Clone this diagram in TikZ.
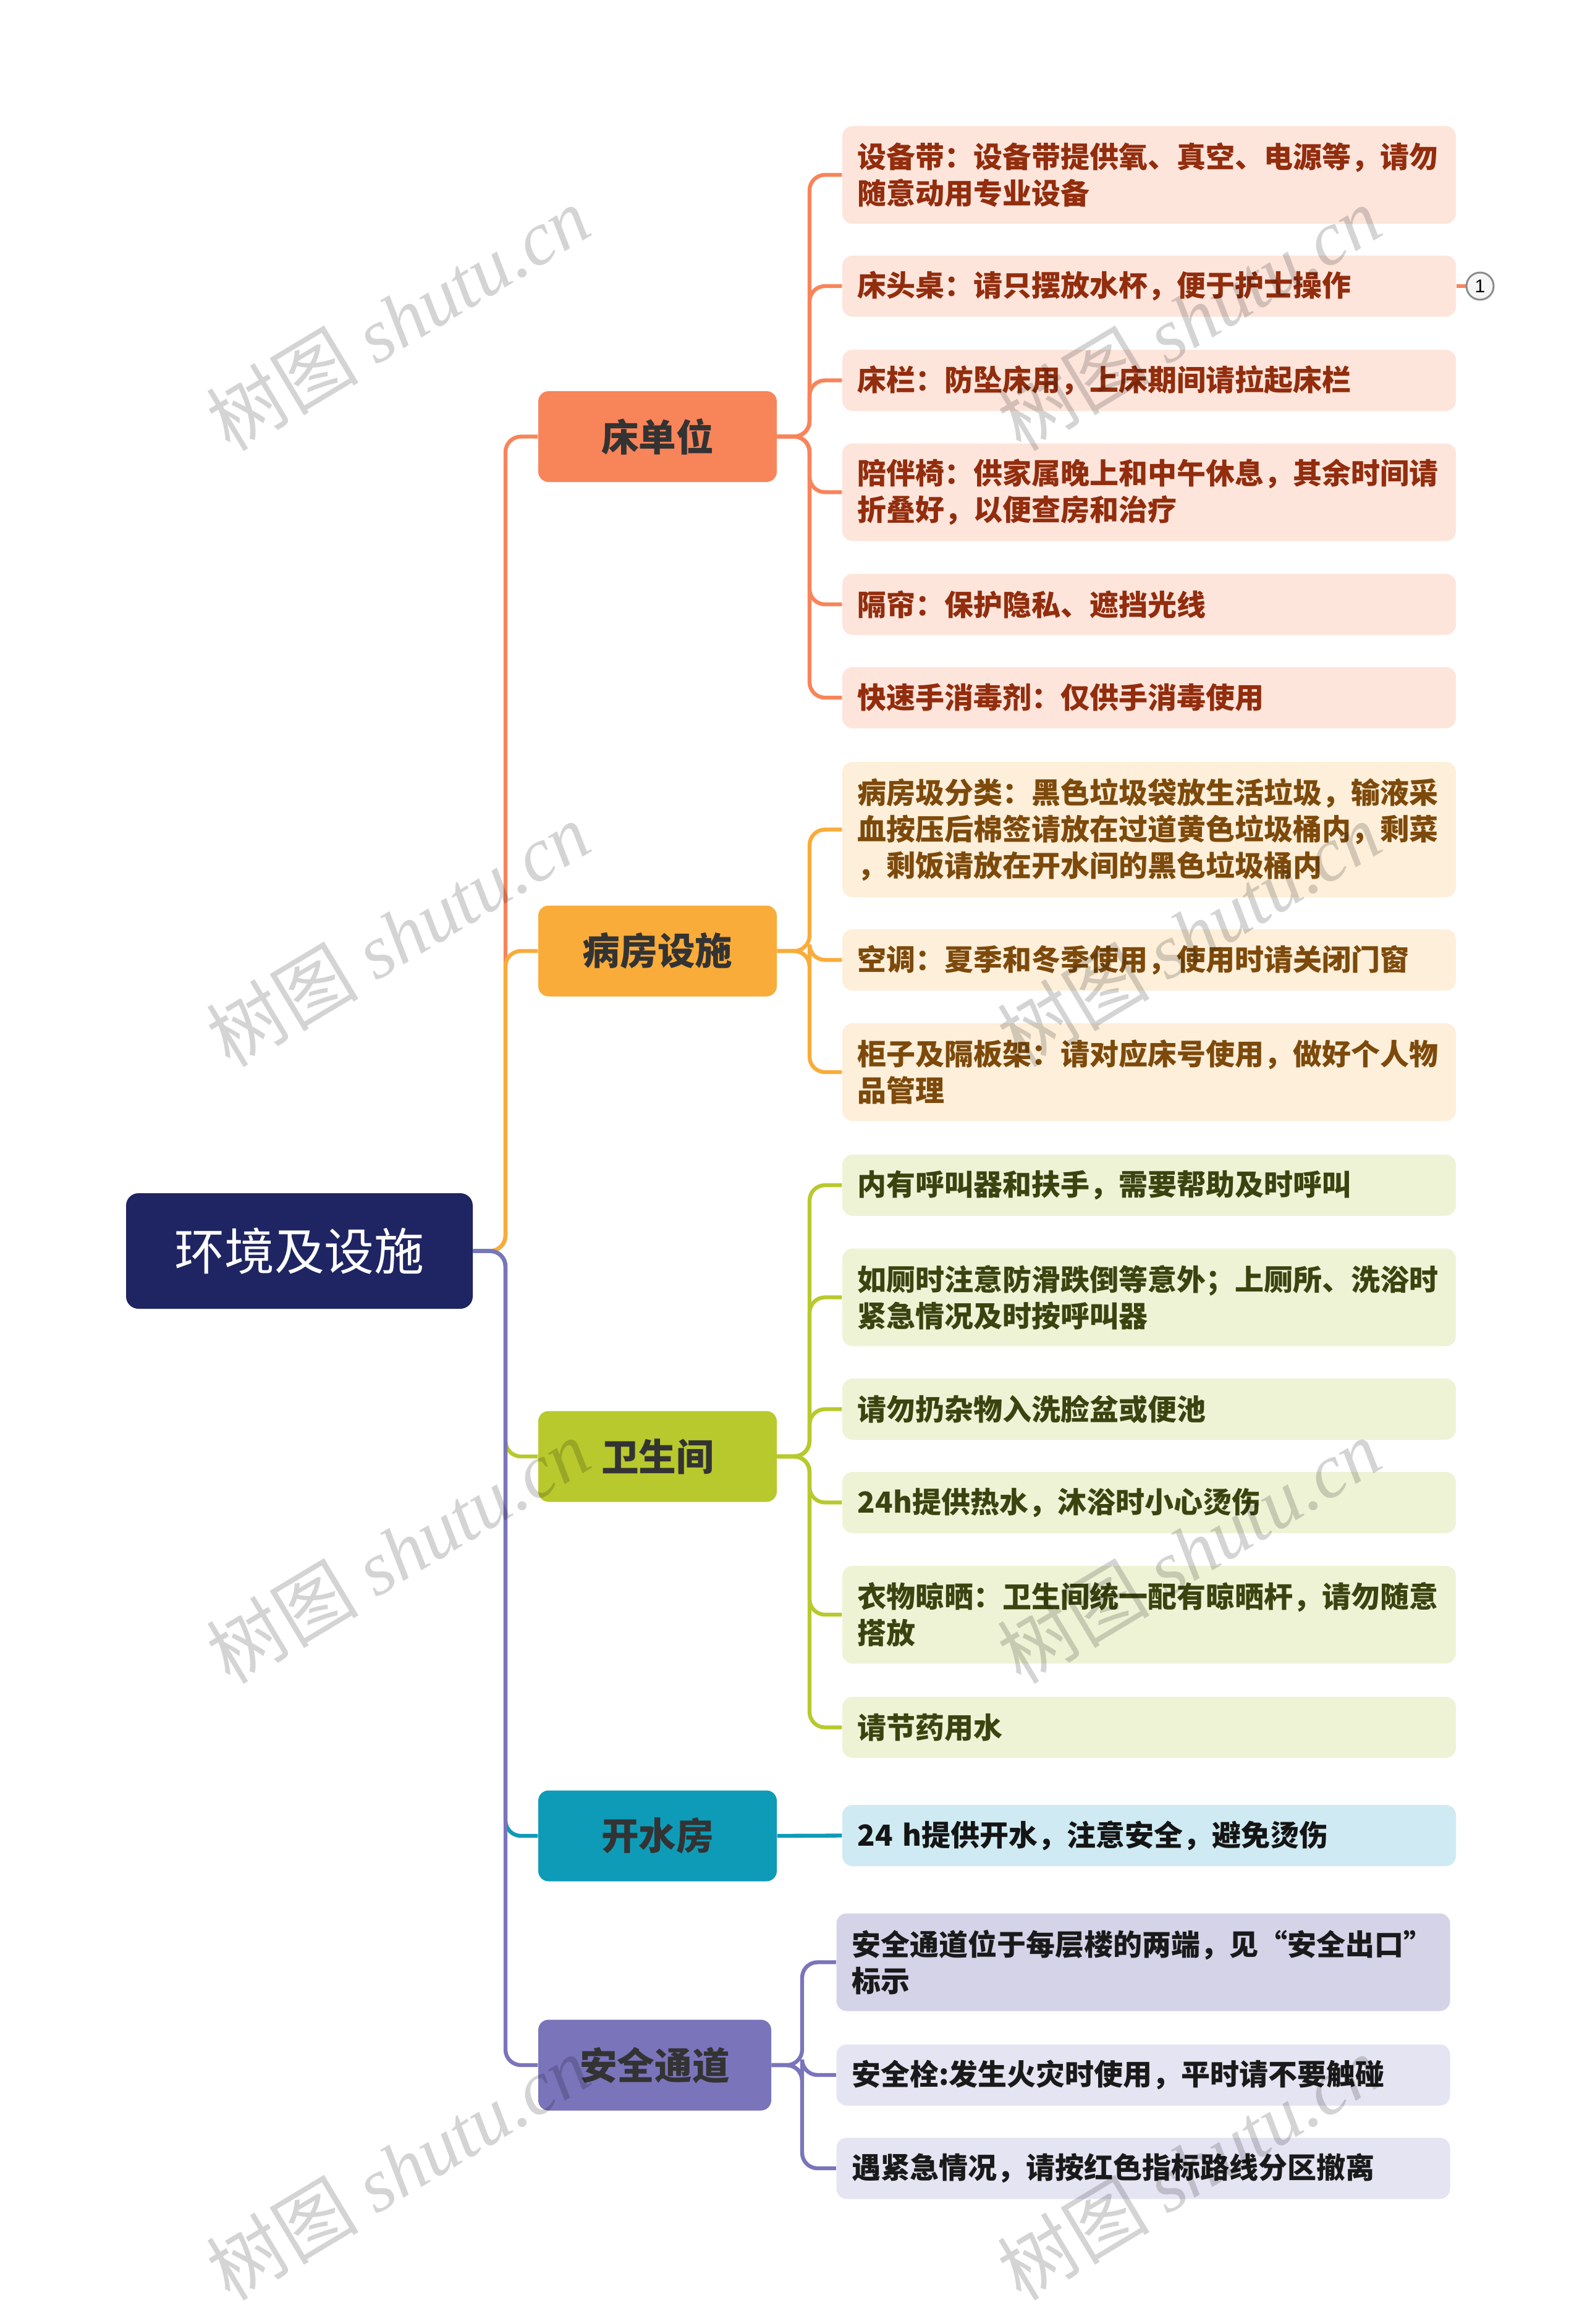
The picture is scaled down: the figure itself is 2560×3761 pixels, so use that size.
\documentclass[tikz,border=0pt]{standalone}
\usepackage{fontspec}
\setmainfont{Noto Sans CJK SC}
\newfontfamily\wmlat{Liberation Serif}
\newfontfamily\numfont{Liberation Sans}
\pgfdeclarelayer{bg}\pgfdeclarelayer{fg}\pgfsetlayers{bg,main,fg}
\definecolor{cRoot}{HTML}{1F2562}
\definecolor{cA}{HTML}{F8845A}
\definecolor{cB}{HTML}{F9AC39}
\definecolor{cC}{HTML}{B8C92D}
\definecolor{cD}{HTML}{0E9BB7}
\definecolor{cE}{HTML}{7A74BB}
\definecolor{lA}{HTML}{FDE5DC}
\definecolor{lB}{HTML}{FDEFD9}
\definecolor{lC}{HTML}{EFF3D6}
\definecolor{lD}{HTML}{CFEAF2}
\definecolor{lE}{HTML}{E5E4F2}
\definecolor{lEa}{HTML}{D4D3E8}
\definecolor{tA}{HTML}{922D0D}
\definecolor{tB}{HTML}{7D4A0C}
\definecolor{tC}{HTML}{3B4410}
\definecolor{tD}{HTML}{151515}
\definecolor{tE}{HTML}{1A1A1A}
\definecolor{tL}{HTML}{333333}
\begin{document}
\begin{tikzpicture}[x=0.3pt,y=-0.3pt,
  rootnode/.style={fill=cRoot, rounded corners=6pt, minimum width=168.3pt, minimum height=56.1pt, inner sep=0pt, text=white, font=\fontsize{24.3pt}{28pt}\selectfont},
  lvl/.style={rounded corners=5pt, minimum width=115.8pt, minimum height=44.1pt, inner sep=0pt, text=tL, font=\bfseries\fontsize{18.2pt}{22pt}\selectfont},
  leaf/.style={rounded corners=5pt, minimum width=297.9pt, text width=283pt, inner xsep=7.45pt, inner ysep=0pt, align=left, font=\bfseries\fontsize{14.1pt}{17.7pt}\selectfont},
  hA/.style={minimum height=29.7pt},
  hB/.style={minimum height=47.4pt},
  hC/.style={minimum height=65.7pt},
  leafA/.style={leaf, fill=lA, text=tA},
  leafB/.style={leaf, fill=lB, text=tB},
  leafC/.style={leaf, fill=lC, text=tC},
  leafD/.style={leaf, fill=lD, text=tD},
  leafE/.style={leaf, fill=lE, text=tE},
  conn/.style={line width=1.9pt, rounded corners=7.5pt},
  wm/.style={rotate=31, text=black, text opacity=0.17, inner sep=0pt, font=\fontsize{37pt}{40pt}\selectfont}
]
\useasboundingbox (0,0) rectangle (2560,3761);

% root
\node[rootnode] (root) at (484.5,2024.5) {环境及设施};

% level 1
\node[lvl, fill=cA] (n1) at (1064,706.5) {床单位};
\node[lvl, fill=cB] (n2) at (1064,1539) {病房设施};
\node[lvl, fill=cC] (n3) at (1064,2357) {卫生间};
\node[lvl, fill=cD] (n4) at (1064,2971) {开水房};
\node[lvl, fill=cE, minimum width=113.1pt] (n5) at (1059.5,3342) {安全通道};

% leaves
\node[leafA, hB] (l1) at (1859.5,283) {设备带：设备带提供氧、真空、电源等，请勿\\随意动用专业设备};
\node[leafA, hA] (l2) at (1859.5,463) {床头桌：请只摆放水杯，便于护士操作};
\node[leafA, hA] (l3) at (1859.5,615.5) {床栏：防坠床用，上床期间请拉起床栏};
\node[leafA, hB] (l4) at (1859.5,796.5) {陪伴椅：供家属晚上和中午休息，其余时间请\\折叠好，以便查房和治疗};
\node[leafA, hA] (l5) at (1859.5,978) {隔帘：保护隐私、遮挡光线};
\node[leafA, hA] (l6) at (1859.5,1129) {快速手消毒剂：仅供手消毒使用};

\node[leafB, hC] (l7) at (1859.5,1342.5) {病房圾分类：黑色垃圾袋放生活垃圾，输液采\\血按压后棉签请放在过道黄色垃圾桶内，剩菜\\，剩饭请放在开水间的黑色垃圾桶内};
\node[leafB, hA] (l8) at (1859.5,1553.5) {空调：夏季和冬季使用，使用时请关闭门窗};
\node[leafB, hB] (l9) at (1859.5,1735) {柜子及隔板架：请对应床号使用，做好个人物\\品管理};

\node[leafC, hA] (l10) at (1859.5,1918) {内有呼叫器和扶手，需要帮助及时呼叫};
\node[leafC, hB] (l11) at (1859.5,2099.5) {如厕时注意防滑跌倒等意外；上厕所、洗浴时\\紧急情况及时按呼叫器};
\node[leafC, hA] (l12) at (1859.5,2280.5) {请勿扔杂物入洗脸盆或便池};
\node[leafC, hA] (l13) at (1859.5,2431.5) {24h提供热水，沐浴时小心烫伤};
\node[leafC, hB] (l14) at (1859.5,2613) {衣物晾晒：卫生间统一配有晾晒杆，请勿随意\\搭放};
\node[leafC, hA] (l15) at (1859.5,2795.5) {请节药用水};

\node[leafD, hA] (l16) at (1859.5,2970.5) {24 h提供开水，注意安全，避免烫伤};

\node[leafE, hB, fill=lEa] (l17) at (1850,3175.5) {安全通道位于每层楼的两端，见“安全出口”\\标示};
\node[leafE, hA] (l18) at (1850,3358) {安全栓:发生火灾时使用，平时请不要触碰};
\node[leafE, hA] (l19) at (1850,3509) {遇紧急情况，请按红色指标路线分区撤离};

% marker
\node[circle, draw=black!45, fill=black!4, line width=0.9pt, minimum size=13.2pt, inner sep=0pt, font=\numfont\fontsize{9pt}{9pt}\selectfont] (m1) at (2395,463) {1};

% junction coordinates
\coordinate (rj) at (818,2024.5);
\coordinate (j1) at (1310,706.5);
\coordinate (j2) at (1310,1539);
\coordinate (j3) at (1310,2357);
\coordinate (j5) at (1298,3342);

\begin{pgfonlayer}{bg}
\fill[white] (0,0) rectangle (2560,3761);
% root to level 1
\draw[conn, cA] (root.east) -- (rj) |- (n1.west);
\draw[conn, cB] (root.east) -- (rj) |- (n2.west);
\draw[conn, cC] (root.east) -- (rj) |- (n3.west);
\draw[conn, cD] (root.east) -- (rj) |- (n4.west);
\draw[conn, cE] (root.east) -- (rj) |- (n5.west);
% level 1 to leaves
\foreach \l in {l1,l2,l3,l4,l5,l6} \draw[conn, cA] (n1.east) -- (j1) |- (\l.west);
\foreach \l in {l7,l8,l9} \draw[conn, cB] (n2.east) -- (j2) |- (\l.west);
\foreach \l in {l10,l11,l12,l13,l14,l15} \draw[conn, cC] (n3.east) -- (j3) |- (\l.west);
\draw[conn, cD] (n4.east) -- (l16.west);
\foreach \l in {l17,l18,l19} \draw[conn, cE] (n5.east) -- (j5) |- (\l.west);
\draw[conn, cA] (l2.east) -- (m1.west);
\end{pgfonlayer}

% watermarks
\begin{pgfonlayer}{fg}
\foreach \wx/\wy [count=\i] in {644/515,1924/515,644/1512,1924/1512,644/2510,1924/2510,644/3508,1924/3508}
  \node[wm] (wm\i) at (\wx,\wy) {树图 {\wmlat\itshape shutu.cn}};
\end{pgfonlayer}
\end{tikzpicture}
\end{document}
